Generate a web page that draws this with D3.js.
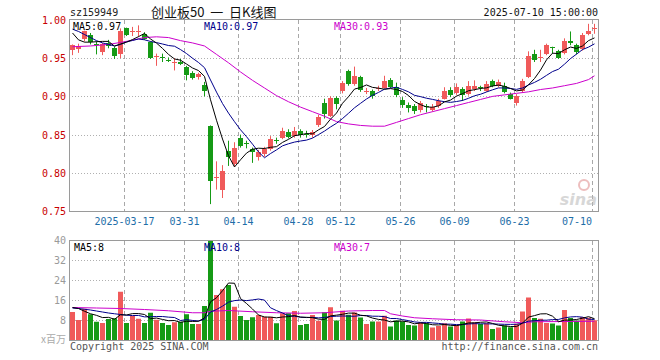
<!DOCTYPE html>
<html><head><meta charset="utf-8">
<script src="https://cdn.jsdelivr.net/npm/d3@7"></script>
<style>body{margin:0;background:#fff}svg{display:block}</style>
</head><body><svg id="c" width="660" height="360"></svg>
<script>
const dates = ["2025-03-04","2025-03-05","2025-03-06","2025-03-07","2025-03-10","2025-03-11","2025-03-12","2025-03-13","2025-03-14","2025-03-17",
"2025-03-18","2025-03-19","2025-03-20","2025-03-21","2025-03-24","2025-03-25","2025-03-26","2025-03-27","2025-03-28","2025-03-31",
"2025-04-01","2025-04-02","2025-04-03","2025-04-07","2025-04-08","2025-04-09","2025-04-10","2025-04-11","2025-04-14","2025-04-15",
"2025-04-16","2025-04-17","2025-04-18","2025-04-21","2025-04-22","2025-04-23","2025-04-24","2025-04-25","2025-04-28","2025-04-29",
"2025-04-30","2025-05-06","2025-05-07","2025-05-08","2025-05-09","2025-05-12","2025-05-13","2025-05-14","2025-05-15","2025-05-16",
"2025-05-19","2025-05-20","2025-05-21","2025-05-22","2025-05-23","2025-05-26","2025-05-27","2025-05-28","2025-05-29","2025-05-30",
"2025-06-03","2025-06-04","2025-06-05","2025-06-06","2025-06-09","2025-06-10","2025-06-11","2025-06-12","2025-06-13","2025-06-16",
"2025-06-17","2025-06-18","2025-06-19","2025-06-20","2025-06-23","2025-06-24","2025-06-25","2025-06-26","2025-06-27","2025-06-30",
"2025-07-01","2025-07-02","2025-07-03","2025-07-04","2025-07-07","2025-07-08","2025-07-09","2025-07-10"];

const open = [0.961,0.962,0.975,0.981,0.969,0.958,0.970,0.964,0.956,0.989,
 0.985,0.984,0.982,0.971,0.952,0.952,0.947,0.944,0.945,0.938,
 0.931,0.925,0.915,0.861,0.793,0.777,0.828,0.812,0.846,0.839,
 0.831,0.821,0.824,0.831,0.843,0.846,0.853,0.849,0.855,0.851,
 0.849,0.863,0.891,0.875,0.898,0.907,0.933,0.916,0.925,0.906,
 0.907,0.910,0.911,0.921,0.912,0.895,0.889,0.887,0.882,0.887,
 0.882,0.887,0.897,0.909,0.904,0.910,0.902,0.910,0.912,0.907,
 0.920,0.914,0.914,0.903,0.891,0.907,0.926,0.955,0.951,0.955,
 0.965,0.959,0.956,0.972,0.967,0.962,0.981,0.989];
const close = [0.967,0.966,0.985,0.972,0.968,0.969,0.966,0.954,0.986,0.980,
 0.986,0.985,0.975,0.950,0.953,0.951,0.946,0.945,0.942,0.928,
 0.925,0.929,0.907,0.789,0.794,0.802,0.820,0.833,0.836,0.838,
 0.827,0.827,0.831,0.844,0.842,0.855,0.847,0.855,0.850,0.850,
 0.853,0.873,0.877,0.898,0.890,0.917,0.916,0.927,0.908,0.907,
 0.901,0.911,0.920,0.912,0.901,0.888,0.885,0.881,0.891,0.886,
 0.886,0.894,0.907,0.903,0.912,0.902,0.913,0.914,0.911,0.916,
 0.914,0.919,0.906,0.897,0.900,0.920,0.953,0.947,0.952,0.967,
 0.964,0.950,0.972,0.970,0.958,0.980,0.985,0.990];
const high = [0.968,0.969,0.986,0.983,0.972,0.970,0.974,0.965,0.989,0.990,
 0.991,0.993,0.984,0.972,0.956,0.956,0.951,0.950,0.949,0.940,
 0.933,0.931,0.919,0.862,0.815,0.810,0.842,0.840,0.850,0.842,
 0.833,0.830,0.834,0.848,0.846,0.859,0.857,0.860,0.857,0.855,
 0.856,0.876,0.897,0.900,0.900,0.920,0.935,0.939,0.927,0.911,
 0.909,0.914,0.927,0.924,0.918,0.899,0.892,0.890,0.894,0.890,
 0.890,0.897,0.912,0.912,0.917,0.912,0.920,0.921,0.914,0.920,
 0.922,0.922,0.918,0.905,0.903,0.923,0.959,0.961,0.961,0.969,
 0.965,0.961,0.976,0.985,0.969,0.983,0.995,0.995];
const low = [0.954,0.957,0.972,0.968,0.955,0.954,0.963,0.949,0.950,0.979,
 0.979,0.978,0.974,0.949,0.940,0.945,0.945,0.934,0.941,0.921,
 0.922,0.922,0.900,0.759,0.778,0.767,0.809,0.808,0.833,0.832,
 0.813,0.816,0.821,0.829,0.838,0.844,0.845,0.846,0.846,0.846,
 0.846,0.860,0.871,0.873,0.883,0.904,0.914,0.914,0.906,0.903,
 0.897,0.907,0.910,0.911,0.899,0.885,0.879,0.877,0.879,0.879,
 0.880,0.885,0.896,0.899,0.902,0.894,0.901,0.907,0.907,0.906,
 0.912,0.912,0.904,0.896,0.888,0.905,0.924,0.945,0.945,0.954,
 0.956,0.949,0.955,0.967,0.955,0.960,0.980,0.982];
const volume = [11.2,8.0,12.5,10.3,7.3,6.8,8.4,8.7,19.3,6.8,
 9.6,8.5,6.8,10.9,8.1,6.8,6.0,7.1,7.3,10.3,
 6.4,6.4,13.6,40,18.0,20.3,22.0,13.3,9.6,8.0,
 9.1,10.0,9.3,9.3,6.7,10.7,10.7,11.6,6.0,6.4,
 10.0,7.7,11.1,13.1,7.8,11.7,10.1,11.0,9.0,6.4,
 7.4,7.4,9.7,5.4,7.8,7.4,6.0,5.8,7.0,6.7,
 5.0,5.6,6.7,5.4,6.0,7.4,8.6,7.0,6.4,6.7,
 4.4,5.0,5.8,5.1,6.5,11.4,17.0,8.8,8.5,6.8,
 6.6,5.8,12.0,8.8,7.8,9.2,8.9,7.9];

const ma5 = [0.983,0.974,0.971,0.971,0.9716,0.972,0.972,0.9658,0.9686,0.971,
 0.9744,0.9782,0.9824,0.9752,0.9698,0.9628,0.955,0.949,0.9474,0.9424,
 0.9372,0.9338,0.9262,0.8956,0.8688,0.8442,0.8224,0.8076,0.817,0.8258,
 0.8308,0.8322,0.8318,0.8334,0.8342,0.8398,0.8438,0.8486,0.8498,0.8514,
 0.851,0.8562,0.8606,0.8702,0.8782,0.891,0.8996,0.9096,0.9116,0.915,
 0.9118,0.9108,0.9094,0.9102,0.909,0.9064,0.9012,0.8934,0.8892,0.8862,
 0.8858,0.8876,0.8928,0.8952,0.9004,0.9036,0.9074,0.9088,0.9104,0.9112,
 0.9136,0.9148,0.9132,0.9104,0.9072,0.9084,0.9152,0.9234,0.9344,0.9478,
 0.9566,0.956,0.961,0.9646,0.9628,0.966,0.973,0.9766];
const ma10 = [0.988,0.985,0.981,0.977,0.973,0.970,0.968,0.966,0.968,0.9713,
 0.9732,0.9751,0.9741,0.9719,0.9704,0.9686,0.9666,0.9657,0.9613,0.9561,
 0.950,0.9444,0.9376,0.9215,0.9056,0.8907,0.8781,0.8669,0.8563,0.8473,
 0.8375,0.8273,0.8197,0.8252,0.830,0.8353,0.838,0.8402,0.8416,0.8428,
 0.8454,0.850,0.8546,0.860,0.8648,0.871,0.8779,0.8851,0.8909,0.8966,
 0.9014,0.9052,0.9095,0.9109,0.912,0.9091,0.906,0.9014,0.8997,0.8976,
 0.8961,0.8944,0.8931,0.8922,0.8933,0.8947,0.8975,0.9008,0.9028,0.9058,
 0.9086,0.9111,0.911,0.9104,0.9092,0.911,0.915,0.9183,0.9224,0.9275,
 0.9325,0.9356,0.9422,0.9495,0.9553,0.9613,0.9645,0.9688];
const ma30Idx = [0,3,6,9,12,14,16,18,20,22,24,26,28,30,32,34,36,38,40,42,44,46,48,50,52,54,56,58,60,62,64,66,68,70,72,74,76,78,80,82,84,86,87];
const ma30Val = [0.965,0.966,0.968,0.972,0.977,0.978,0.977,0.973,0.970,0.966,0.955,0.944,0.932,0.921,0.911,0.901,0.893,0.886,0.880,0.874,0.867,0.864,0.862,0.861,0.861,0.866,0.871,0.876,0.880,0.884,0.888,0.892,0.896,0.900,0.902,0.904,0.906,0.909,0.911,0.914,0.917,0.922,0.927];

const vma5 = [13.0,12.6,11.5,10.5,9.86,8.98,9.06,8.3,10.1,10.0,
 10.56,10.58,10.2,8.52,8.78,8.22,7.72,7.78,7.06,7.5,
 7.42,7.5,8.8,15.3,16.9,19.7,22.8,22.7,16.6,14.6,
 12.4,10.0,9.2,9.14,8.88,9.2,9.34,9.8,9.14,9.08,
 8.94,8.34,8.24,9.66,9.94,10.28,10.76,10.74,9.92,9.64,
 8.78,8.24,7.98,7.26,7.54,7.54,7.26,6.48,6.8,6.58,
 6.1,6.02,6.2,5.88,5.74,6.22,6.82,6.88,7.08,7.22,
 6.62,5.9,5.66,5.4,5.36,6.76,9.16,9.76,10.44,10.5,
 9.54,7.3,7.94,8.0,8.2,8.72,9.34,8.52];
const vma10 = [12.8,12.6,12.3,12.0,11.6,11.2,10.8,10.5,10.2,9.93,
 9.77,9.82,9.25,9.31,9.39,9.39,9.15,8.99,7.79,8.14,
 7.82,7.61,8.29,11.2,12.19,13.54,15.14,15.76,15.99,15.76,
 16.03,16.39,15.96,12.89,11.76,10.8,9.67,9.5,9.14,8.98,
 9.07,8.84,9.02,9.4,9.51,9.61,9.55,9.49,9.79,9.79,
 9.53,9.5,9.36,8.59,8.59,8.16,7.75,7.23,7.03,7.06,
 6.82,6.64,6.34,6.34,6.16,6.16,6.42,6.54,6.48,6.48,
 6.42,6.36,6.27,6.24,6.29,6.69,7.53,7.71,7.92,7.93,
 8.15,8.23,8.85,9.22,9.35,9.13,8.32,8.23];
const vma30Idx = [0,4,8,12,16,20,22,23,26,30,34,38,42,46,50,52,53,55,57,60,64,68,72,75,77,82,87];
const vma30Val = [13.0,12.8,12.6,12.2,11.7,10.9,10.9,11.5,11.8,11.3,10.9,10.7,10.9,11.6,11.8,11.8,10.5,9.6,8.9,8.5,8.1,8.0,7.3,6.9,7.3,7.4,7.5];

const priceTicks = [1.00,0.95,0.90,0.85,0.80,0.75];
const volTicks = [40,32,24,16,8];
const dateTicks = ["2025-03-17","2025-03-31","2025-04-14","2025-04-28","2025-05-12","2025-05-26","2025-06-09","2025-06-23","2025-07-10"];
const dateTickLabels = ["2025-03-17","03-31","04-14","04-28","05-12","05-26","06-09","06-23","07-10"];

const svg = d3.select('#c');
const mono = '"DejaVu Sans Mono", monospace';
const UP = '#f05a5a', DN = '#159a15';
const C5 = '#000000', C10 = '#00008c', C30 = '#cc00cc';
const L = 69, R = 598;
const x = d3.scaleBand().domain(dates).range([L, R - 1]);
const cx = d => x(d) + 3.5;
const y = d3.scaleLinear().domain([0.75, 1.0]).range([211, 20]);
const yv = d3.scaleLinear().domain([0, 40]).range([340, 240]);
const px = v => Math.round(v) + 0.5;

// grid lines
const g = svg.append('g');
g.selectAll('.hp').data(priceTicks.filter(v => v < 0.999 && v > 0.751)).enter().append('line')
  .attr('x1', L).attr('x2', R).attr('y1', d => px(y(d))).attr('y2', d => px(y(d)))
  .attr('stroke', '#b0b0b0').attr('stroke-dasharray', '1,2');
g.selectAll('.hv').data(volTicks.filter(v => v < 40)).enter().append('line')
  .attr('x1', L).attr('x2', R).attr('y1', d => px(yv(d))).attr('y2', d => px(yv(d)))
  .attr('stroke', '#b0b0b0').attr('stroke-dasharray', '1,2');
dateTicks.forEach(d => {
  const gx = x(d) + 1.5;
  g.append('line').attr('x1', gx).attr('x2', gx).attr('y1', 20).attr('y2', 211)
    .attr('stroke', '#a8a8a8').attr('stroke-dasharray', '4,3');
  g.append('line').attr('x1', gx).attr('x2', gx).attr('y1', 241).attr('y2', 340)
    .attr('stroke', '#a8a8a8').attr('stroke-dasharray', '4,3');
});

// sina watermark
const wm = svg.append('g').attr('opacity', 0.55);
wm.append('circle').attr('cx', 584).attr('cy', 185).attr('r', 5).attr('fill', 'none').attr('stroke', '#e08a8a').attr('stroke-width', 2);
wm.append('text').attr('x', 597).attr('y', 205).attr('text-anchor', 'end')
  .attr('font-family', '"DejaVu Sans", sans-serif').attr('font-size', 16).attr('font-weight', 'bold')
  .attr('font-style', 'italic').attr('fill', '#b8b8b8').text('sina');

// candles
const idx = d3.range(dates.length);
const cg = svg.append('g');
cg.selectAll('.wick').data(idx).enter().append('line')
  .attr('x1', i => cx(dates[i])).attr('x2', i => cx(dates[i]))
  .attr('y1', i => y(high[i])).attr('y2', i => y(low[i]))
  .attr('stroke', i => close[i] >= open[i] ? UP : DN).attr('stroke-width', 1);
cg.selectAll('.body').data(idx).enter().append('rect')
  .attr('x', i => x(dates[i]) + 1).attr('width', 5)
  .attr('y', i => Math.round(y(Math.max(open[i], close[i]))))
  .attr('height', i => Math.max(1, Math.round(Math.abs(y(open[i]) - y(close[i])))))
  .attr('fill', i => close[i] >= open[i] ? UP : DN);

// volume bars
cg.selectAll('.vol').data(idx).enter().append('rect')
  .attr('x', i => x(dates[i]) + 1).attr('width', 5)
  .attr('y', i => yv(volume[i])).attr('height', i => 340 - yv(volume[i]))
  .attr('fill', i => close[i] >= open[i] ? UP : DN);

// MA lines
const line = d3.line();
const drawLine = (pts, col) => svg.append('path').attr('d', line(pts)).attr('fill', 'none')
  .attr('stroke', col).attr('stroke-width', 1);
drawLine(ma30Idx.map((k, j) => [cx(dates[k]), y(ma30Val[j])]), C30);
drawLine(idx.map(i => [cx(dates[i]), y(ma10[i])]), C10);
drawLine(idx.map(i => [cx(dates[i]), y(ma5[i])]), C5);
drawLine(vma30Idx.map((k, j) => [cx(dates[k]), yv(vma30Val[j])]), C30);
drawLine(idx.map(i => [cx(dates[i]), yv(vma10[i])]), C10);
drawLine(idx.map(i => [cx(dates[i]), yv(vma5[i])]), C5);

// borders
svg.append('rect').attr('x', L + 0.5).attr('y', 19.5).attr('width', R - L).attr('height', 192)
  .attr('fill', 'none').attr('stroke', '#9a9a9a');
svg.append('rect').attr('x', L + 0.5).attr('y', 240.5).attr('width', R - L).attr('height', 100)
  .attr('fill', 'none').attr('stroke', '#9a9a9a');

// text helpers
const txt = (t, xx, yy, col, anchor, size, fam) => svg.append('text').attr('x', xx).attr('y', yy)
  .attr('fill', col).attr('text-anchor', anchor || 'start').attr('font-size', size || 10)
  .attr('font-family', fam || mono).style('white-space', 'pre').text(t);

// price axis labels
priceTicks.forEach(v => txt(d3.format('.2f')(v), 66, y(v) + 4, '#c80000', 'end'));
// volume axis labels
volTicks.forEach(v => txt(String(v), 66, yv(v) + 4, '#9a9a9a', 'end'));
txt('x百万', 66, 343, '#aaaaaa', 'end', 10, '"Noto Sans CJK SC", sans-serif');

// date labels
dateTicks.forEach((d, k) => {
  const last = k === dateTicks.length - 1;
  txt(dateTickLabels[k], last ? 592 : x(d) + 1.5, 225, '#1e6ea8', last ? 'end' : 'middle');
});

// header
txt('sz159949', 70, 16, '#222');
txt('创业板50  一  日K线图', 151, 17, '#111', 'start', 13, '"Noto Sans CJK SC", sans-serif');
txt('2025-07-10 15:00:00', 598, 16, '#111', 'end');

// legends
txt('MA5:0.97', 73, 30, C5);
txt('MA10:0.97', 204, 30, C10);
txt('MA30:0.93', 334, 30, C30);
txt('MA5:8', 74, 251, C5);
txt('MA10:8', 204, 251, C10);
txt('MA30:7', 334, 251, C30);

// footer
txt('Copyright 2025 SINA.COM', 70, 350, '#555');
txt('http://finance.sina.com.cn', 598, 350, '#555', 'end');
</script></body></html>
